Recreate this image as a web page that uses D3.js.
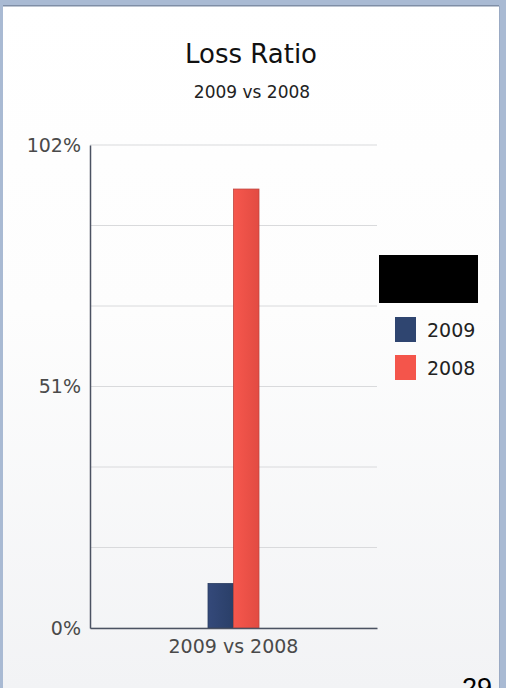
<!DOCTYPE html>
<html><head><meta charset="utf-8">
<script src="https://cdn.jsdelivr.net/npm/d3@7"></script>
<style>html,body{margin:0;padding:0;background:#fff;}svg{display:block;}</style>
</head><body>
<svg id="c" width="506" height="688"></svg>
<script>
const categories = ["2009 vs 2008"];
const seriesNames = ["2009", "2008"];
const seriesValues = [[9.4], [92.7]];
const seriesColors = ["#2f4570", "#f4554b"];
const yTicks = [0, 51, 102];
const yGrid = [0, 17, 34, 51, 68, 85, 102];
const yTickLabels = ["0%", "51%", "102%"];

const svg = d3.select("#c");
const W = 506, H = 688;
const defs = svg.append("defs");
const bg = defs.append("linearGradient").attr("id","bg").attr("x1",0).attr("y1",0).attr("x2",0).attr("y2",1);
bg.append("stop").attr("offset","0").attr("stop-color","#ffffff");
bg.append("stop").attr("offset","0.45").attr("stop-color","#fdfdfd");
bg.append("stop").attr("offset","1").attr("stop-color","#f2f3f5");
const rg = defs.append("linearGradient").attr("id","rg").attr("x1",0).attr("y1",0).attr("x2",1).attr("y2",0);
rg.append("stop").attr("offset","0").attr("stop-color","#f6574d");
rg.append("stop").attr("offset","1").attr("stop-color","#e24b42");
const bgr = defs.append("linearGradient").attr("id","bgr").attr("x1",0).attr("y1",0).attr("x2",1).attr("y2",0);
bgr.append("stop").attr("offset","0").attr("stop-color","#34497a");
bgr.append("stop").attr("offset","1").attr("stop-color","#2a3f68");

svg.append("rect").attr("x",0).attr("y",0).attr("width",W).attr("height",H).attr("fill","url(#bg)");
// frame borders
svg.append("rect").attr("x",0).attr("y",0).attr("width",W).attr("height",5).attr("fill","#a9bad3");
svg.append("rect").attr("x",0).attr("y",5).attr("width",W).attr("height",1.5).attr("fill","#7f8ea6");
svg.append("rect").attr("x",0).attr("y",0).attr("width",3).attr("height",H).attr("fill","#a9bad3");
svg.append("rect").attr("x",499).attr("y",0).attr("width",7).attr("height",H).attr("fill","#a9bad3");
svg.append("rect").attr("x",499).attr("y",6).attr("width",1).attr("height",H).attr("fill","#9aaac4");

const font = "'DejaVu Sans', Verdana, sans-serif";
svg.append("text").attr("x",251).attr("y",63).attr("text-anchor","middle")
  .attr("font-family",font).attr("font-size",26).attr("fill","#111").text("Loss Ratio");
svg.append("text").attr("x",252).attr("y",98).attr("text-anchor","middle")
  .attr("font-family",font).attr("font-size",17).attr("fill","#222").text("2009 vs 2008");

const x0 = d3.scaleBand().domain(categories).range([90, 377]).paddingInner(0).paddingOuter(2.314);
const x1 = d3.scaleBand().domain(seriesNames).range([0, x0.bandwidth()]).padding(0);
const y = d3.scaleLinear().domain([0, 102]).range([628, 145]);

// gridlines
svg.append("g").selectAll("line").data(yGrid).join("line")
  .attr("x1",90).attr("x2",377).attr("y1",d=>y(d)).attr("y2",d=>y(d))
  .attr("stroke","#d9dadc").attr("stroke-width",1);

// y axis
const yAxis = d3.axisLeft(y).tickValues(yTicks).tickFormat((d,i)=>yTickLabels[i]).tickSize(0).tickPadding(9);
const gy = svg.append("g").attr("transform","translate(90,0)").call(yAxis);
gy.select(".domain").attr("stroke","#4b5262").attr("stroke-width",1.5);
gy.selectAll("text").attr("font-family",font).attr("font-size",19).attr("fill","#4a4a4a");

// bars
const fills = ["url(#bgr)", "url(#rg)"];
const strokes = ["#2a3c60", "#c0463f"];
const g = svg.append("g");
categories.forEach((cat, ci) => {
  seriesNames.forEach((s, si) => {
    g.append("rect")
      .attr("x", x0(cat) + x1(s))
      .attr("y", y(seriesValues[si][ci]))
      .attr("width", x1.bandwidth())
      .attr("height", y(0) - y(seriesValues[si][ci]))
      .attr("fill", fills[si]).attr("stroke", strokes[si]).attr("stroke-width", 0.8);
  });
});

// x axis
const xAxis = d3.axisBottom(x0).tickSize(0).tickPadding(12);
const gx = svg.append("g").attr("transform","translate(0,628)").call(xAxis);
gx.select(".domain").attr("stroke","#4b5262").attr("stroke-width",1.5);
gx.selectAll("text").attr("font-family",font).attr("font-size",19).attr("fill","#4a4a4a");

// legend
svg.append("rect").attr("x",379).attr("y",255).attr("width",99).attr("height",48).attr("fill","#000");
const lg = svg.append("g");
seriesNames.forEach((s, i) => {
  const yy = 317 + i * 38;
  lg.append("rect").attr("x",395).attr("y",yy).attr("width",21).attr("height",25).attr("fill",seriesColors[i]);
  lg.append("text").attr("x",427).attr("y",yy+20).attr("font-family",font).attr("font-size",19)
    .attr("fill","#222").text(s);
});

// page number (clipped)
svg.append("text").attr("x",462).attr("y",697).attr("font-family","'Liberation Sans', Arial, sans-serif")
  .attr("font-size",27).attr("fill","#000").text("29");
</script>
</body></html>
